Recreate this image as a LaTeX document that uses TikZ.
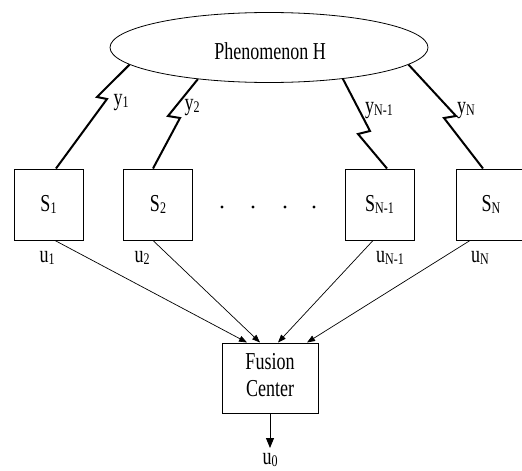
\documentclass[tikz,border=0pt]{standalone}
\usepackage{fontspec}
\setmainfont{Liberation Serif}
\usetikzlibrary{shapes.geometric,arrows.meta,calc}
\newcommand\lbl[1]{\scalebox{1}[1.35]{#1}}
\newcommand\sbs[1]{\raisebox{-1.5pt}{\fontsize{12}{12}\selectfont #1}}
\begin{document}
\begin{tikzpicture}[x=1pt,y=-1pt,
  every node/.style={font=\fontsize{18}{20}\selectfont, inner sep=0pt},
  sensor/.style={draw, line width=1pt, minimum width=69pt, minimum height=71pt},
  zig/.style={line width=2pt, line join=miter},
  arr/.style={line width=0.7pt, -{Triangle[length=8pt,width=6pt]}},
  arrbig/.style={line width=0.9pt, -{Triangle[length=10pt,width=8pt]}},
  dotnode/.style={circle, fill, minimum size=3.2pt}
]
\useasboundingbox (0,0) rectangle (522,471);
\fill[white] (0,0) rectangle (522,471);

\node[ellipse, draw, line width=0.8pt, minimum width=318pt, minimum height=70pt] (ph) at (269,47.5) {};
\node (phtxt) at (270,51) {\lbl{Phenomenon H}};

\node[sensor] (s1) at (48.5,204.5) {\lbl{S\sbs{1}}};
\node[sensor] (s2) at (158,204.5) {\lbl{S\sbs{2}}};
\node[sensor] (sn1) at (379.5,204.5) {\lbl{S\sbs{N-1}}};
\node[sensor] (sn) at (491,204.5) {\lbl{S\sbs{N}}};

\node[dotnode] (d1) at (222,207) {};
\node[dotnode] (d2) at (253,207) {};
\node[dotnode] (d3) at (285,207) {};
\node[dotnode] (d4) at (314,207) {};

\node[draw, line width=1pt, minimum width=96pt, minimum height=70pt] (fc) at (270,378)
  {\lbl{\begin{tabular}{@{}c@{}}Fusion\\Center\end{tabular}}};

% zigzag links
\coordinate (k1a) at (97,97);   \coordinate (k1b) at (107,99);
\coordinate (k2a) at (168,116); \coordinate (k2b) at (180,118);
\coordinate (k3a) at (370,131); \coordinate (k3b) at (358,134);
\coordinate (k4a) at (456,116); \coordinate (k4b) at (444,118);
\draw[zig] (ph.-173.9) -- (k1a) -- (k1b) -- ($(s1.north)+(7.5,0)$);
\draw[zig] (ph.-156.3) -- (k2a) -- (k2b) -- ($(s2.north)+(-5,0)$);
\draw[zig] (ph.-23.7) -- (k3a) -- (k3b) -- ($(sn1.north)+(7.5,0)$);
\draw[zig] (ph.-7.8) -- (k4a) -- (k4b) -- ($(sn.north)+(-8,0)$);

\node (y1) at (121,103) {\lbl{y\sbs{1}}};
\node (y2) at (192,108) {\lbl{y\sbs{2}}};
\node (yn1) at (379,111) {\lbl{y\sbs{N-1}}};
\node (yn) at (466,111) {\lbl{y\sbs{N}}};

% decisions
\draw[arr] ($(s1.south)+(6.5,0)$) -- ($(fc.north)+(-23,0)$);
\draw[arr] ($(s2.south)+(-5,0)$) -- ($(fc.north)+(-10,0)$);
\draw[arr] ($(sn1.south)+(-6.5,0)$) -- ($(fc.north)+(8,0)$);
\draw[arr] ($(sn.south)+(-21,0)$) -- ($(fc.north)+(37,0)$);

\node (u1) at (47,258) {\lbl{u\sbs{1}}};
\node (u2) at (142,258) {\lbl{u\sbs{2}}};
\node (un1) at (390,258) {\lbl{u\sbs{N-1}}};
\node (un) at (480,258) {\lbl{u\sbs{N}}};

\coordinate (outp) at (270,448);
\draw[arrbig] (fc.south) -- (outp);
\node (u0) at (270,460) {\lbl{u\sbs{0}}};
\end{tikzpicture}
\end{document}
